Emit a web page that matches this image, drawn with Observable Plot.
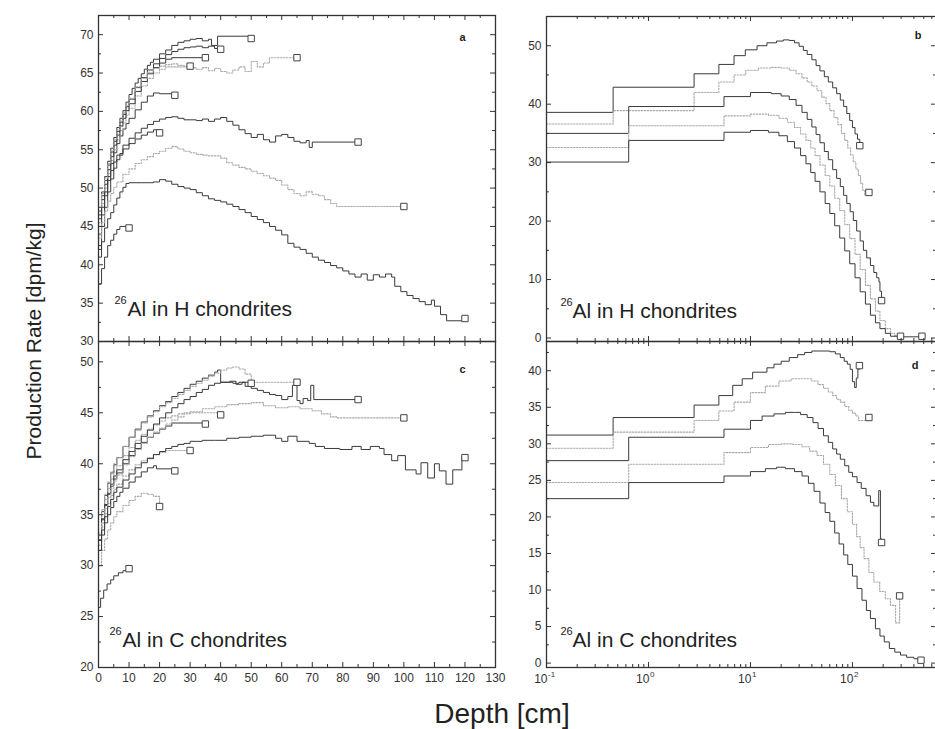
<!DOCTYPE html>
<html><head><meta charset="utf-8">
<script src="https://cdn.jsdelivr.net/npm/d3@7"></script>
<script src="https://cdn.jsdelivr.net/npm/@observablehq/plot@0.6"></script>
<style>
body{margin:0;background:#fff;overflow:hidden;font-family:"Liberation Sans",Arial,sans-serif;}
#wrap{position:relative;width:935px;height:729px;overflow:hidden;}
#wrap > svg, #wrap > figure{position:absolute;margin:0;}
</style></head><body><div id="wrap"></div><script>
// ---------- tick / label arrays ----------
const xTicksLin = [0,10,20,30,40,50,60,70,80,90,100,110,120,130];
const xMinorLin = [5,15,25,35,45,55,65,75,85,95,105,115,125];
const logMajor = [0.1,1,10,100];
const logExp = ["-1","0","1","2"];
const logMinor = [0.2,0.3,0.4,0.5,0.6,0.7,0.8,0.9,2,3,4,5,6,7,8,9,20,30,40,50,60,70,80,90,200,300,400,500,600];
const yTicksA = [30,35,40,45,50,55,60,65,70];
const yMinorA = [32.5,37.5,42.5,47.5,52.5,57.5,62.5,67.5];
const yTicksC = [20,25,30,35,40,45,50];
const yMinorC = [22.5,27.5,32.5,37.5,42.5,47.5];
const yTicksB = [0,10,20,30,40,50];
const yMinorB = [5,15,25,35,45];
const yTicksD = [0,5,10,15,20,25,30,35,40];
const yMinorD = [2.5,7.5,12.5,17.5,22.5,27.5,32.5,37.5,42.5];

// ---------- panel a: 26Al in H chondrites, depth [cm] vs rate, radii 10..120 cm ----------
const hR10 = [[0,37.5],[1,39.5],[2,41],[3,42.5],[4,43.2],[5,44],[6,44.6],[7,45],[10,44.8]];
const hR20 = [[0,42],[1,45],[2,47.5],[3,49.5],[4,51.2],[5,52.6],[6,53.7],[7,54.5],[8,55.1],[10,55.8],[12,56.4],[14,56.9],[16,57.3],[18,57.6],[20,57.2]];
const hR25 = [[0,44],[1,46.5],[2,49],[3,51.5],[4,53.2],[5,54.6],[6,55.8],[7,56.8],[8,57.7],[9,58.4],[10,59.1],[12,60.2],[14,61.2],[16,62],[18,62.4],[20,62.3],[25,62.1]];
const hR30 = [[0,45.5],[1,48],[2,50],[3,51.9],[4,53.6],[5,55],[6,56.3],[7,57.5],[8,58.5],[9,59.5],[10,60.4],[12,62],[14,63.3],[16,64.3],[18,65],[20,65.5],[22,65.8],[30,65.9]];
const hR35 = [[0,46],[1,48.5],[2,50.5],[3,52.4],[4,54.1],[5,55.6],[6,56.9],[7,58.1],[8,59.1],[9,60.1],[10,61],[12,62.6],[14,63.9],[16,64.9],[18,65.7],[20,66.3],[22,66.8],[24,67],[35,67]];
const hR40 = [[0,46.5],[1,49],[2,51],[3,53],[4,54.7],[5,56.1],[6,57.4],[7,58.6],[8,59.6],[9,60.6],[10,61.6],[12,63.1],[14,64.4],[16,65.4],[18,66.2],[20,66.9],[22,67.4],[24,67.8],[26,68.1],[28,68.3],[30,68.4],[32,68.5],[34,68.3],[36,68.5],[38,68.2],[40,68.1]];
const hR50 = [[0,47],[1,49.5],[2,51.5],[3,53.5],[4,55.2],[5,56.6],[6,57.9],[7,59.1],[8,60.1],[9,61.2],[10,62.2],[11,63],[12,63.7],[13,64.3],[14,64.9],[15,65.5],[16,66],[17,66.4],[18,66.8],[20,67.5],[22,68],[24,68.6],[26,69],[28,69.2],[30,69.4],[32,69.5],[34,69.2],[36,69.4],[37,68.6],[39,69.8],[50,69.5]];
const hR65 = [[0,47],[1,49.3],[2,51.3],[3,53.2],[4,54.9],[5,56.3],[6,57.6],[7,58.8],[8,59.8],[9,60.8],[10,61.7],[12,63.2],[14,64.3],[16,65.1],[18,65.6],[20,65.9],[22,66.1],[24,66.2],[26,66],[28,65.9],[30,65.7],[32,65.5],[34,65.7],[36,65.3],[38,65.6],[40,65.2],[42,65],[44,65.4],[46,65.8],[48,65.2],[50,66.5],[52,65.8],[54,66.3],[56,67],[65,67]];
const hR85 = [[0,45],[1,47.5],[2,49.5],[3,51],[4,52.3],[5,53.4],[6,54.3],[8,55.6],[10,56.5],[12,57.2],[14,57.8],[16,58.3],[18,58.7],[20,59],[22,59.2],[24,59.3],[26,59.1],[28,58.9],[30,58.9],[32,58.8],[34,59],[36,58.7],[38,59],[40,59.2],[42,58.7],[44,58.2],[46,57.6],[48,57.1],[50,56.6],[52,57],[54,56.3],[56,56],[58,56.8],[60,57],[62,56.6],[64,56.1],[66,55.9],[68,56.2],[69,55.3],[70,56],[85,56]];
const hR100 = [[0,43.5],[1,45.5],[2,47],[3,48.3],[4,49.3],[5,50.1],[6,50.8],[8,51.8],[10,52.5],[12,53.2],[14,53.7],[16,54.1],[18,54.5],[20,54.8],[22,55.2],[24,55.4],[26,55.1],[28,54.8],[30,54.6],[32,54.4],[34,54.3],[36,54.2],[38,54.2],[40,53.9],[42,53.3],[44,53],[46,52.7],[48,52.5],[50,52.2],[52,51.9],[54,51.6],[56,51.3],[58,51],[60,50.4],[62,49.8],[64,49.3],[66,49],[68,49.5],[70,49.2],[72,49],[74,48.5],[76,48],[78,47.6],[100,47.6]];
const hR120 = [[0,41],[1,43],[2,44.8],[3,46],[4,46.8],[5,47.8],[6,48.7],[7,49.5],[8,50.1],[9,50.6],[10,50.7],[14,50.7],[18,50.8],[20,51.1],[22,50.9],[24,50.5],[26,50.2],[28,50],[30,49.8],[32,49.4],[34,49],[36,48.6],[38,48.4],[40,48.2],[42,47.9],[44,47.6],[46,47.2],[48,46.8],[50,46.3],[52,45.9],[54,45.5],[56,45],[58,44.5],[60,43.9],[62,42.8],[64,42.3],[66,42],[68,41.5],[70,41],[72,40.6],[74,40.3],[76,39.9],[78,39.6],[80,39.2],[82,38.8],[84,38.4],[86,38.8],[88,38],[90,38.7],[92,38.4],[94,38.8],[96,38.4],[97,37.2],[99,36.5],[101,36],[103,35.6],[105,35.2],[107,34.8],[109,35.4],[110,34.6],[112,33.5],[114,32.7],[120,33]];

// ---------- panel c: 26Al in C chondrites ----------
const cR10 = [[0,25.9],[0.7,26.8],[1.7,27.6],[2.8,28.2],[4,28.6],[5,29],[6.5,29.3],[8,29.5],[10,29.7]];
const cR20 = [[0,30],[1,31.5],[2,32.6],[3,33.5],[4,34.2],[5,34.8],[6,35.3],[8,35.9],[10,36.4],[12,36.8],[14,37.1],[16,37],[18,36.8],[20,35.8]];
const cR25 = [[0,31.5],[1,33],[2,34.2],[3,35],[4,35.7],[5,36.3],[6,36.8],[7,37.2],[8,37.6],[10,38.2],[12,38.7],[14,39.2],[16,39.6],[18,39.8],[19,39.5],[25,39.3]];
const cR30 = [[0,32],[1,33.8],[2,35.1],[3,36.1],[4,36.9],[5,37.5],[6,38],[8,38.8],[10,39.4],[12,39.9],[14,40.3],[16,40.6],[18,40.9],[20,41.1],[22,41.3],[30,41.3]];
const cR35 = [[0,32.5],[1,34.5],[2,35.9],[3,37],[4,37.8],[5,38.5],[6,39.1],[8,40],[10,40.8],[12,41.5],[14,42.1],[16,42.6],[18,43],[20,43.4],[22,43.7],[24,44],[35,43.9]];
const cR40 = [[0,33],[1,35],[2,36.5],[3,37.6],[4,38.5],[5,39.2],[6,39.8],[8,40.8],[10,41.6],[12,42.3],[14,42.9],[16,43.4],[18,43.8],[20,44.2],[22,44.5],[24,44.7],[26,44.9],[28,45],[40,44.8]];
const cR50 = [[0,33],[1,35.3],[2,36.9],[3,38.1],[4,39.1],[5,39.9],[6,40.6],[8,41.7],[10,42.6],[12,43.4],[14,44.1],[16,44.7],[18,45.2],[20,45.7],[22,46.1],[24,46.6],[26,47],[28,47.4],[30,47.8],[32,48.1],[34,48.4],[36,48.7],[38,49],[39,49.2],[40,48],[43,48.1],[45,47.8],[47,48],[50,47.9]];
const cR65 = [[0,33.2],[1,35.5],[2,37],[3,38.2],[4,39.2],[5,40],[6,40.6],[8,41.7],[10,42.6],[12,43.3],[14,44],[16,44.6],[18,45.1],[20,45.6],[22,46],[24,46.4],[26,46.8],[28,47.2],[30,47.6],[32,47.9],[34,48.2],[36,48.6],[38,48.9],[40,49.2],[42,49.4],[44,49.5],[46,49.3],[48,48.8],[50,48],[65,48]];
const cR85 = [[0,32.5],[1,34.6],[2,36],[3,37.1],[4,38],[5,38.8],[6,39.4],[8,40.4],[10,41.2],[12,42],[14,42.7],[16,43.3],[18,43.9],[20,44.5],[22,45],[24,45.5],[26,45.9],[28,46.3],[30,46.6],[32,47],[34,47.3],[36,47.7],[38,47.9],[40,48],[44,47.9],[46,48],[48,47.6],[50,47.4],[52,47.2],[54,47],[56,46.8],[58,46.7],[60,46.3],[62,46.6],[63.5,47.7],[65,46.2],[66,45.9],[67,46.4],[68.5,46.2],[69.5,47.7],[70.5,46.3],[85,46.3]];
const cR100 = [[0,32],[1,34.2],[2,35.6],[3,36.7],[4,37.6],[5,38.3],[6,38.9],[8,39.9],[10,40.7],[12,41.4],[14,42],[16,42.6],[18,43.1],[20,43.5],[22,43.9],[24,44.3],[26,44.6],[28,44.9],[30,45.1],[34,45.4],[38,45.6],[42,45.8],[46,45.9],[50,46],[54,45.7],[58,45.5],[62,45.6],[66,45.4],[70,45.2],[73,44.9],[76,44.6],[78,44.5],[100,44.5]];
const cR120 = [[0,31.5],[1,33.5],[2,34.8],[3,35.8],[4,36.5],[5,37.2],[6,37.7],[8,38.4],[10,39],[12,39.6],[14,40.1],[16,40.5],[18,40.9],[20,41.2],[22,41.5],[24,41.7],[26,41.9],[28,42],[30,42.2],[34,42.3],[38,42.3],[42,42.5],[46,42.6],[50,42.7],[54,42.8],[58,42.5],[60,42.2],[62,42.7],[65,42.2],[69,42],[71,41.7],[74,41.5],[79,41.4],[83,41.7],[86,41.4],[89,41.7],[92,41.5],[93.5,40.9],[96,40.3],[98,40.8],[100.5,39.4],[104,39],[105.6,40.1],[107.8,38.6],[110,40],[111.6,39.3],[113.8,38],[116,39.4],[119,40.7],[120,40.6]];

// ---------- panel b: H chondrites, log depth, radii 120..500 cm ----------
const bR120 = [[0.1,38.6],[0.45,42.9],[2.8,45.2],[4.9,46.8],[6.9,48.3],[8.9,49.3],[11.6,50],[14.5,50.5],[18,50.8],[21,51],[24,50.9],[27,50.5],[30,49.9],[33,49.2],[36,48.5],[40,47.6],[44,46.6],[48,45.7],[53,44.7],[58,43.8],[64,42.8],[70,41.8],[76,40.7],[82,39.6],[88,38.4],[94,37.2],[100,36],[106,34.9],[112,34],[118,32.9]];
const bR150 = [[0.1,36.6],[0.45,38.9],[2.8,42],[4.9,43.8],[6.9,45],[9,45.8],[12,46.2],[16,46.3],[20,46.2],[24,45.8],[28,45.2],[32,44.5],[36,43.8],[40,43.1],[45,42.3],[50,41.2],[55,40.1],[60,38.9],[66,37.7],[72,36.5],[78,35],[84,33.8],[90,32.5],[96,31.3],[102,30.1],[108,28.9],[114,27.8],[120,26.5],[126,25.3],[132,24.5],[145,24.9]];
const bR200 = [[0.1,35],[0.64,39.6],[5.5,41.3],[10,42],[16,41.8],[20,41.4],[24,40.8],[28,39.8],[32,38.6],[36,37.4],[40,36.1],[44,34.8],[48,33.4],[53,31.9],[58,30.5],[64,28.8],[70,27.3],[76,25.9],[82,24.4],[88,23],[95,21.6],[102,20.1],[110,18.3],[119,16.6],[128,15],[138,13.7],[150,12.4],[162,11.2],[173,10.3],[182,9.6],[186,8],[193,6.4]];
const bR300 = [[0.1,32.6],[0.64,36.3],[5.5,38],[10,38.3],[15,38.1],[19,37.6],[23,36.9],[27,36],[31,34.9],[35,33.8],[39,32.5],[43,31.2],[48,29.6],[54,27.8],[60,26],[67,23.9],[75,21.8],[84,19.4],[94,17],[106,14.3],[119,11.7],[134,9],[150,6.7],[168,4.6],[186,3],[210,1.6],[236,0.8],[260,0.4],[296,0.3]];
const bR500 = [[0.1,30.1],[0.64,33.8],[5.5,35.2],[10,35.5],[15,35.2],[19,34.6],[23,33.6],[27,32.5],[31,31.2],[35,29.8],[39,28.3],[43,26.8],[48,25],[54,23],[60,21.3],[67,19.2],[75,17.1],[84,14.9],[94,12.7],[106,10.3],[119,7.9],[134,5.8],[150,3.9],[168,2.6],[186,1.6],[210,0.8],[236,0.3],[300,0.2],[400,0.2],[480,0.3]];

// ---------- panel d: C chondrites, log depth ----------
const dR120 = [[0.1,31.2],[0.45,33.6],[2.8,35.3],[4.9,36.6],[6.7,38],[8.3,38.9],[10.5,39.8],[14.5,40.4],[17,40.9],[20,41.3],[24,41.8],[29,42.2],[34,42.5],[40,42.7],[50,42.7],[60,42.6],[68,42.3],[76,41.8],[83,41.3],[89,40.9],[95,40.2],[100,38.5],[105,37.7],[109,39],[113,40.2],[117,40.7]];
const dR150 = [[0.1,29.4],[0.45,31.6],[2.8,33.2],[4.9,34.5],[6.9,35.7],[10,37],[14,37.9],[19,38.6],[25,38.9],[32,38.9],[40,38.6],[46,38.1],[52,37.6],[58,37.1],[64,36.6],[70,36.1],[76,35.7],[84,35.1],[92,34.6],[100,34.2],[108,33.8],[115,33.2],[145,33.6]];
const dR200 = [[0.1,27.7],[0.64,30.9],[5.5,32],[10,33.2],[13,33.8],[17,34.1],[22,34.3],[27,34.3],[31,34],[36,33.6],[41,32.9],[46,32.1],[52,31.1],[58,30.2],[64,29.3],[70,28.6],[76,27.9],[84,27],[92,26.1],[100,25.5],[111,24.7],[122,23.9],[136,22.9],[150,22],[162,21.5],[181,23.6],[188,17],[193,16.5]];
const dR300 = [[0.1,24.7],[0.64,27.2],[5.5,28.8],[10,29.5],[15,29.9],[20,30],[26,29.9],[32,29.6],[38,29],[45,28.4],[52,27.2],[60,25.8],[68,24.3],[78,22.5],[89,20.7],[100,19],[110,17.3],[119,15.8],[130,14.3],[145,12.4],[162,11.1],[185,9.8],[210,8.8],[236,7.9],[265,5.5],[290,9.2]];
const dR500 = [[0.1,22.5],[0.64,24.7],[5.5,25.6],[10,26.2],[14,26.6],[18,26.8],[22,26.6],[27,26.2],[32,25.6],[37,24.6],[42,23.5],[48,21.9],[54,20.6],[60,19.4],[67,17.8],[74,16.3],[82,14.8],[90,13.5],[100,11.9],[111,10.2],[124,8.6],[137,7.2],[150,6.1],[168,4.7],[186,3.7],[205,2.9],[230,2],[260,1.5],[296,1.1],[340,0.8],[400,0.6],[470,0.4]];

// which curves are drawn as grey dotted lines
const greyA = [hR30, hR65, hR100];
const greyC = [cR20, cR30, cR40, cR65, cR100];
const greyB = [bR150, bR300];
const greyD = [dR150, dR300];

// ---------- drawing ----------
const wrap = document.getElementById("wrap");
const INK = "#333";
const FONT = "'Liberation Sans', Arial, Helvetica, sans-serif";

function panel(cfg) {
  const mL = 45, mR = 3, mT = 3, mB = 30;
  const {w, h} = cfg;
  const marks = [];
  // curves
  for (const c of cfg.curves) {
    const grey = cfg.grey.includes(c);
    marks.push(Plot.line(c, {x: d => d[0], y: d => d[1], curve: "step-after", clip: true,
      stroke: grey ? "#a8a8a8" : "#3a3a3a", strokeWidth: grey ? 1.1 : 1,
      strokeDasharray: grey ? "1.5,1.5" : null}));
  }
  // end-point squares (centre of each meteoroid)
  marks.push(Plot.dot(cfg.curves.map(c => c[c.length - 1]), {x: d => d[0], y: d => d[1],
    symbol: "square", r: 3.6, stroke: "#444", strokeWidth: 1, fill: "white"}));
  // frame
  marks.push(Plot.frame({stroke: INK, strokeWidth: 1.3}));
  // inward ticks on all four sides
  const tick = (vals, len, isX) => isX
    ? [Plot.ruleX(vals, {x: d => d, insetBottom: h - len, stroke: INK}),
       Plot.ruleX(vals, {x: d => d, insetTop: h - len, stroke: INK})]
    : [Plot.ruleY(vals, {y: d => d, insetRight: w - len, stroke: INK}),
       Plot.ruleY(vals, {y: d => d, insetLeft: w - len, stroke: INK})];
  marks.push(...tick(cfg.xMajor, 5, true), ...tick(cfg.xMinor, 3, true),
             ...tick(cfg.yMajor, 5, false), ...tick(cfg.yMinor, 3, false));
  // y tick labels
  marks.push(Plot.text(cfg.yMajor, {y: d => d, text: d => String(d), frameAnchor: "left",
    textAnchor: "end", dx: -5, fontSize: 12, fill: INK}));
  // x tick labels
  if (cfg.xLabels === "lin") {
    marks.push(Plot.text(cfg.xMajor, {x: d => d, text: d => String(d), frameAnchor: "bottom",
      lineAnchor: "top", dy: 6, fontSize: 12, fill: INK}));
  } else if (cfg.xLabels === "log") {
    marks.push(Plot.text(logMajor, {x: d => d, text: () => "10", frameAnchor: "bottom",
      lineAnchor: "top", dy: 7, textAnchor: "end", dx: 1, fontSize: 12, fill: INK}));
    marks.push(Plot.text(logMajor, {x: d => d, text: (d, i) => logExp[i], frameAnchor: "bottom",
      lineAnchor: "top", dy: 4, textAnchor: "start", dx: 1.5, fontSize: 8, fill: INK}));
  }
  // panel letter
  marks.push(Plot.text([cfg.letter], {frameAnchor: "top-right", dx: cfg.letterDx, dy: cfg.letterDy,
    lineAnchor: "middle", fontWeight: "bold", fontSize: 11, fill: "#222"}));
  // species annotation
  marks.push(Plot.text(["26"], {frameAnchor: "bottom-left", textAnchor: "start", lineAnchor: "bottom",
    dx: cfg.supDx, dy: cfg.titleDy - 12, fontSize: 11, fill: "#222"}));
  marks.push(Plot.text([cfg.title], {frameAnchor: "bottom-left", textAnchor: "start", lineAnchor: "bottom",
    dx: cfg.titleDx, dy: cfg.titleDy, fontSize: 21, fill: "#222"}));

  const el = Plot.plot({
    width: mL + w + mR, height: mT + h + mB,
    marginLeft: mL, marginRight: mR, marginTop: mT, marginBottom: mB,
    x: {type: cfg.xType, domain: cfg.xDomain, axis: null},
    y: {domain: cfg.yDomain, axis: null},
    style: {background: "transparent", overflow: "visible", fontFamily: FONT, color: INK},
    marks
  });
  el.style.left = (cfg.left - mL) + "px";
  el.style.top = (cfg.top - mT) + "px";
  wrap.appendChild(el);
}

panel({left: 98, top: 15, w: 397, h: 326, xType: "linear", xDomain: [0, 130], yDomain: [30, 72.5],
  curves: [hR10, hR20, hR25, hR30, hR35, hR40, hR50, hR65, hR85, hR100, hR120], grey: greyA,
  xMajor: xTicksLin, xMinor: xMinorLin, yMajor: yTicksA, yMinor: yMinorA, xLabels: null,
  letter: "a", letterDx: -30, letterDy: 22, title: "Al in H chondrites", supDx: 16, titleDx: 29, titleDy: -26});

panel({left: 98, top: 341, w: 397, h: 326, xType: "linear", xDomain: [0, 130], yDomain: [20, 52],
  curves: [cR10, cR20, cR25, cR30, cR35, cR40, cR50, cR65, cR85, cR100, cR120], grey: greyC,
  xMajor: xTicksLin, xMinor: xMinorLin, yMajor: yTicksC, yMinor: yMinorC, xLabels: "lin",
  letter: "c", letterDx: -30, letterDy: 28, title: "Al in C chondrites", supDx: 11, titleDx: 24, titleDy: -21});

panel({left: 546, top: 16, w: 390, h: 325, xType: "log", xDomain: [0.1, 667], yDomain: [-0.6, 55],
  curves: [bR120, bR150, bR200, bR300, bR500], grey: greyB,
  xMajor: logMajor, xMinor: logMinor, yMajor: yTicksB, yMinor: yMinorB, xLabels: null,
  letter: "b", letterDx: -15, letterDy: 19, title: "Al in H chondrites", supDx: 14, titleDx: 26, titleDy: -24});

panel({left: 546, top: 341, w: 390, h: 326, xType: "log", xDomain: [0.1, 667], yDomain: [-0.6, 44],
  curves: [dR120, dR150, dR200, dR300, dR500], grey: greyD,
  xMajor: logMajor, xMinor: logMinor, yMajor: yTicksD, yMinor: yMinorD, xLabels: "log",
  letter: "d", letterDx: -18, letterDy: 24, title: "Al in C chondrites", supDx: 14, titleDx: 26, titleDy: -20.5});

// axis titles
const svgNS = "http://www.w3.org/2000/svg";
const t = document.createElementNS(svgNS, "svg");
t.setAttribute("width", 935); t.setAttribute("height", 729);
t.style.left = "0px"; t.style.top = "0px"; t.style.pointerEvents = "none";
t.innerHTML = `<text x="0" y="0" transform="translate(33,341) rotate(-90)" text-anchor="middle" dominant-baseline="central" font-family="${FONT}" font-size="21" fill="#222">Production Rate [dpm/kg]</text>
<text x="502" y="723" text-anchor="middle" font-family="${FONT}" font-size="28" fill="#222">Depth [cm]</text>`;
wrap.appendChild(t);
</script></body></html>
